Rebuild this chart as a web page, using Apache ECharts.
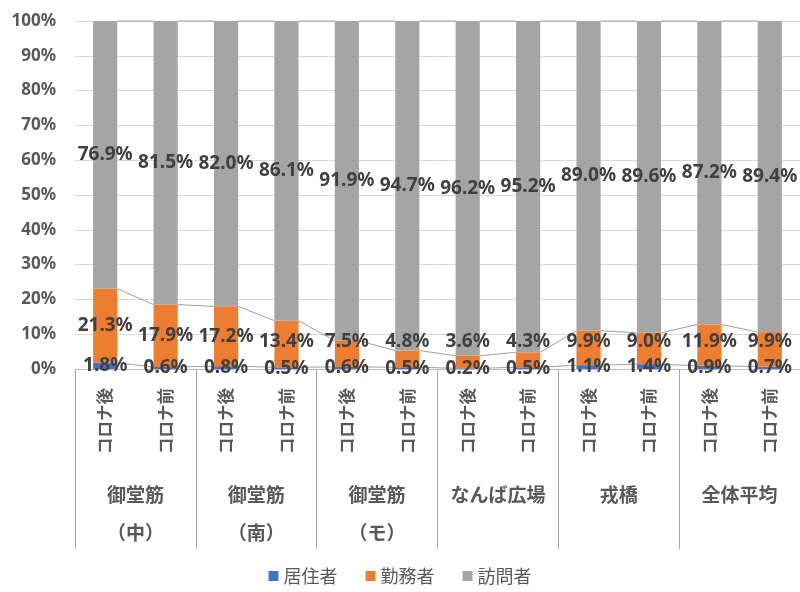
<!DOCTYPE html>
<html>
<head>
<meta charset="utf-8">
<script src="https://cdn.jsdelivr.net/npm/echarts@6/dist/echarts.min.js"></script>
<style>
  html, body { margin: 0; padding: 0; background: #fff; }
  #chart { width: 800px; height: 592px; }
</style>
</head>
<body>
<div id="chart"></div>
<script>
// Period of each bar (after / before the pandemic), two per location
const categories = ['コロナ後', 'コロナ前', 'コロナ後', 'コロナ前', 'コロナ後', 'コロナ前',
                    'コロナ後', 'コロナ前', 'コロナ後', 'コロナ前', 'コロナ後', 'コロナ前'];
// Location groups shown beneath the period labels
const groups = ['御堂筋\n（中）', '御堂筋\n（南）', '御堂筋\n（モ）', 'なんば広場', '戎橋', '全体平均'];

// Share of each visitor type (%)
const residents = [1.8, 0.6, 0.8, 0.5, 0.6, 0.5, 0.2, 0.5, 1.1, 1.4, 0.9, 0.7];
const workers   = [21.3, 17.9, 17.2, 13.4, 7.5, 4.8, 3.6, 4.3, 9.9, 9.0, 11.9, 9.9];
const visitors  = [76.9, 81.5, 82.0, 86.1, 91.9, 94.7, 96.2, 95.2, 89.0, 89.6, 87.2, 89.4];

const seriesNames = ['居住者', '勤務者', '訪問者'];
const colors = ['#4472C4', '#ED7D31', '#A5A5A5'];

const BAR_RATIO = 0.4;
// Worker labels are kept above this value so they clear the resident labels
const WORKER_LABEL_FLOOR = 8;
const FONT = '"Noto Sans", "Noto Sans CJK JP", sans-serif';
const JP_FONT = '"Noto Sans CJK JP", "Noto Sans", sans-serif';

// Cumulative top of each stacked segment, used for the series connector lines
const layers = [residents, workers, visitors];
const tops = [];
let running = residents.map(() => 0);
layers.forEach(layer => {
  running = running.map((v, i) => v + layer[i]);
  tops.push(running.slice());
});
const connectorData = [];
tops.forEach(top => {
  for (let i = 0; i < top.length - 1; i++) {
    connectorData.push([i, top[i], top[i + 1]]);
  }
});

const labelStyle = {
  show: true,
  position: 'inside',
  color: '#404040',
  fontFamily: FONT,
  fontWeight: 'bold',
  fontSize: 19,
  textBorderWidth: 0,
  formatter: p => p.value.toFixed(1) + '%'
};

let chart;

const barSeries = layers.map((data, k) => {
  const s = {
    name: seriesNames[k],
    type: 'bar',
    stack: 'total',
    barWidth: (BAR_RATIO * 100) + '%',
    data: data,
    itemStyle: { color: colors[k] },
    label: labelStyle,
    z: 3
  };
  if (k === 1) {
    s.labelLayout = function (params) {
      const limit = chart.convertToPixel({ yAxisIndex: 0 }, WORKER_LABEL_FLOOR);
      const cy = params.labelRect.y + params.labelRect.height / 2;
      return { dy: Math.min(0, limit - cy) };
    };
  }
  return s;
});

chart = echarts.init(document.getElementById('chart'), null, { renderer: 'canvas' });
chart.setOption({
  backgroundColor: '#ffffff',
  animation: false,
  grid: { left: 75, top: 21, width: 728, bottom: 223, containLabel: false },
  legend: {
    data: seriesNames,
    bottom: 2,
    left: 'center',
    icon: 'rect',
    itemWidth: 10,
    itemHeight: 10,
    itemGap: 28,
    textStyle: { fontFamily: JP_FONT, fontSize: 18, color: '#595959' }
  },
  xAxis: [
    {
      type: 'category',
      data: categories,
      position: 'bottom',
      axisLine: { show: true, lineStyle: { color: '#bfbfbf', width: 1 } },
      axisTick: { show: false },
      axisLabel: {
        rotate: 90,
        interval: 0,
        margin: 19,
        fontFamily: JP_FONT,
        fontSize: 16.5,
        fontWeight: 'bold',
        color: '#595959'
      }
    },
    {
      type: 'category',
      data: groups,
      position: 'bottom',
      axisLine: { show: false },
      axisTick: { show: true, length: 180, interval: 0, lineStyle: { color: '#a6a6a6', width: 1 } },
      axisLabel: {
        interval: 0,
        margin: 107,
        fontFamily: JP_FONT,
        fontSize: 19,
        fontWeight: 'bold',
        lineHeight: 38,
        color: '#595959'
      },
      splitLine: { show: false }
    }
  ],
  yAxis: {
    type: 'value',
    min: 0,
    max: 100,
    interval: 10,
    axisLine: { show: false },
    axisTick: { show: false },
    axisLabel: {
      formatter: '{value}%',
      margin: 19,
      fontFamily: FONT,
      fontWeight: 'bold',
      fontSize: 17,
      color: '#595959'
    },
    splitLine: { lineStyle: { color: '#d9d9d9', width: 1 } }
  },
  series: barSeries.concat([{
    type: 'custom',
    silent: true,
    z: 2,
    data: connectorData,
    renderItem: function (params, api) {
      const half = api.size([1, 0])[0] * BAR_RATIO / 2;
      const p1 = api.coord([api.value(0), api.value(1)]);
      const p2 = api.coord([api.value(0) + 1, api.value(2)]);
      return {
        type: 'line',
        shape: { x1: p1[0] + half, y1: p1[1], x2: p2[0] - half, y2: p2[1] },
        style: { stroke: '#a0a0a0', lineWidth: 1 }
      };
    }
  }])
});
</script>
</body>
</html>
